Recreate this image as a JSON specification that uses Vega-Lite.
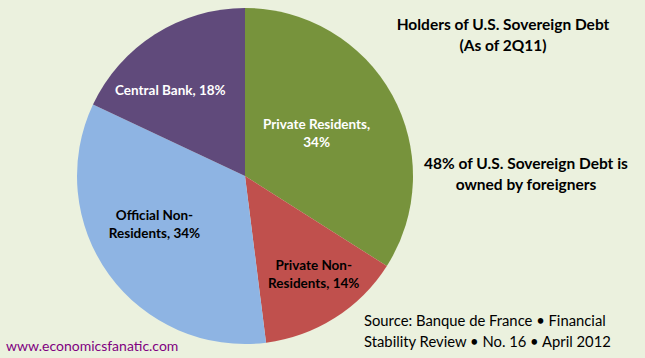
{
  "$schema": "https://vega.github.io/schema/vega-lite/v6.json",
  "background": "#EBF1DE",
  "padding": 0,
  "config": {"font": "Lato", "view": {"stroke": null}},
  "spacing": 0,
  "bounds": "flush",
  "title": {
    "text": "www.economicsfanatic.com",
    "orient": "top", "anchor": "start", "frame": "group", "align": "left", "baseline": "top",
    "offset": 0, "dx": 6, "dy": 354, "fontSize": 14, "fontWeight": "normal", "font": "Lato", "color": "#800080"
  },
  "hconcat": [
    {
      "width": 490,
      "height": 352,
      "view": {"stroke": null},
      "title": {
        "text": ["Source: Banque de France • Financial", "Stability Review • No. 16 • April 2012"],
        "orient": "top", "anchor": "start", "frame": "group", "align": "left", "baseline": "top",
        "offset": 0, "dx": 364, "dy": 350, "fontSize": 14.8, "fontWeight": "normal", "font": "Lato", "color": "#000000", "lineHeight": 21
      },
      "data": {
        "values": [
          {"holder": "Private Residents", "pct": 34, "ord": 1, "label": "Private Residents,\n34%"},
          {"holder": "Private Non-Residents", "pct": 14, "ord": 2, "label": "Private Non-\nResidents, 14%"},
          {"holder": "Official Non-Residents", "pct": 34, "ord": 3, "label": "Official Non-\nResidents, 34%"},
          {"holder": "Central Bank", "pct": 18, "ord": 4, "label": "Central Bank, 18%"}
        ]
      },
      "encoding": {
        "theta": {"field": "pct", "type": "quantitative", "stack": true},
        "order": {"field": "ord", "type": "quantitative"}
      },
      "layer": [
        {
          "mark": {"type": "arc", "outerRadius": 168},
          "encoding": {
            "color": {
              "field": "holder", "type": "nominal", "legend": null,
              "scale": {
                "domain": ["Private Residents", "Private Non-Residents", "Official Non-Residents", "Central Bank"],
                "range": ["#77933C", "#C0504D", "#8EB4E3", "#604A7B"]
              }
            }
          }
        },
        {
          "mark": {"type": "text", "radius": 84, "dx": -2, "dy": -11, "fontWeight": "bold", "fontSize": 13.5, "color": "#FFFFFF", "lineBreak": "\n", "lineHeight": 18},
          "encoding": {"text": {"condition": {"test": "datum.holder === 'Private Residents'", "field": "label"}, "value": ""}}
        },
        {
          "mark": {"type": "text", "radius": 119, "dx": 5, "dy": -10, "fontWeight": "bold", "fontSize": 13.5, "color": "#000000", "lineBreak": "\n", "lineHeight": 17.5},
          "encoding": {"text": {"condition": {"test": "datum.holder === 'Private Non-Residents'", "field": "label"}, "value": ""}}
        },
        {
          "mark": {"type": "text", "radius": 102, "dx": -8, "dy": -20, "fontWeight": "bold", "fontSize": 13.5, "color": "#000000", "lineBreak": "\n", "lineHeight": 18},
          "encoding": {"text": {"condition": {"test": "datum.holder === 'Official Non-Residents'", "field": "label"}, "value": ""}}
        },
        {
          "mark": {"type": "text", "radius": 115, "dx": -13, "dy": 12, "fontWeight": "bold", "fontSize": 13.5, "color": "#FFFFFF", "lineBreak": "\n", "lineHeight": 18},
          "encoding": {"text": {"condition": {"test": "datum.holder === 'Central Bank'", "field": "label"}, "value": ""}}
        }
      ]
    },
    {
      "spacing": 0,
      "bounds": "flush",
      "title": {
        "text": ["48% of U.S. Sovereign Debt is", "owned by foreigners"],
        "orient": "top", "anchor": "start", "frame": "group", "align": "center", "baseline": "top",
        "offset": 0, "dx": 36, "dy": 193, "fontSize": 15.5, "fontWeight": "bold", "font": "Lato", "color": "#000000", "lineHeight": 21
      },
      "vconcat": [
        {
          "width": 155,
          "height": 358,
          "view": {"stroke": null},
          "title": {
            "text": ["Holders of U.S. Sovereign Debt", "(As of 2Q11)"],
            "orient": "top", "anchor": "start", "frame": "group", "align": "center", "baseline": "top",
            "offset": 0, "dx": 13, "dy": 54, "fontSize": 15.5, "fontWeight": "bold", "font": "Lato", "color": "#000000", "lineHeight": 21
          },
          "data": {"values": []},
          "mark": "point"
        }
      ]
    }
  ]
}
